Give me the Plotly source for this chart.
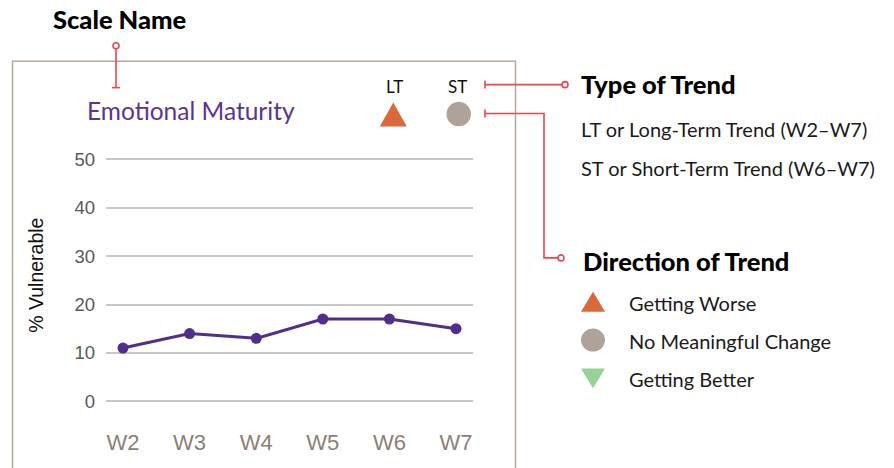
import plotly.graph_objects as go

W, H = 894, 468

# ---- data ----
waves = ["W2", "W3", "W4", "W5", "W6", "W7"]
pct_vulnerable = [11, 14, 13, 17, 17, 15]
y_ticks = [0, 10, 20, 30, 40, 50]
scale_name = "Emotional Maturity"
trend_types = ["LT", "ST"]
trend_type_glyphs = ["up", "circle"]
type_desc = ["LT or Long-Term Trend (W2–W7)", "ST or Short-Term Trend (W6–W7)"]
direction_labels = ["Getting Worse", "No Meaningful Change", "Getting Better"]
direction_glyphs = ["up", "circle", "down"]
glyph_colors = {"up": "#D9693A", "circle": "#AEA399", "down": "#96D196"}

PURPLE = "#512D8C"
RED = "#E84750"
FONT = "Lato"


def px(x):
    return x / W


def py(y):
    return 1 - y / H


fig = go.Figure()

# main line chart
fig.add_trace(go.Scatter(
    x=list(range(len(waves))), y=pct_vulnerable, mode="lines+markers",
    line=dict(color=PURPLE, width=3), marker=dict(size=11, color=PURPLE),
    showlegend=False, hoverinfo="skip"))

y0, y1 = -2, 52
ppu = (402 - 159) / 50
fig.update_layout(
    width=W, height=H, margin=dict(l=0, r=0, t=0, b=0),
    paper_bgcolor="white", plot_bgcolor="rgba(0,0,0,0)",
    xaxis=dict(domain=[px(106), px(473)], range=[-0.255, 5.255],
               tickvals=list(range(len(waves))), ticktext=waves,
               showgrid=False, zeroline=False, showline=False, ticks="",
               tickfont=dict(family="Liberation Sans", size=22, color="#8C7F78"),
               ticklabelstandoff=16, fixedrange=True),
    yaxis=dict(domain=[py(402 + 2 * ppu), py(159 - 2 * ppu)], range=[y0, y1],
               tickvals=y_ticks, showgrid=True, gridcolor="#C8C8C8", gridwidth=1.5,
               zeroline=False, showline=False, ticks="",
               tickfont=dict(family="Liberation Sans", size=18.5, color="#595959"),
               ticklabelstandoff=10, fixedrange=True),
)

shapes = []
# chart box
shapes.append(dict(type="rect", xref="paper", yref="paper",
                   x0=px(12.5), x1=px(515.5), y0=py(480), y1=py(60.5),
                   line=dict(color="#B3A89E", width=1.5), layer="below"))


def glyph(kind, cx, cy, w, h):
    c = glyph_colors[kind]
    if kind == "circle":
        return dict(type="circle", xref="paper", yref="paper",
                    x0=px(cx - w / 2), x1=px(cx + w / 2), y0=py(cy + h / 2), y1=py(cy - h / 2),
                    fillcolor=c, line=dict(width=0))
    if kind == "up":
        pts = [(cx - w / 2, cy + h / 2), (cx + w / 2, cy + h / 2), (cx, cy - h / 2)]
    else:
        pts = [(cx - w / 2, cy - h / 2), (cx + w / 2, cy - h / 2), (cx, cy + h / 2)]
    path = "M " + " L ".join(f"{px(a)} {py(b)}" for a, b in pts) + " Z"
    return dict(type="path", xref="paper", yref="paper", path=path, fillcolor=c, line=dict(width=0))


# key glyphs in the chart box
shapes.append(glyph(trend_type_glyphs[0], 393.3, 114, 27, 24))
shapes.append(glyph(trend_type_glyphs[1], 458.7, 113.5, 24.5, 24.5))
# direction legend glyphs
for i, g in enumerate(direction_glyphs):
    if g == "circle":
        shapes.append(glyph(g, 593, 340.5, 24, 23))
    else:
        shapes.append(glyph(g, 593, 302 + 38.5 * i, 24, 20))

red = dict(color=RED, width=1.6)
# scale name pointer
shapes += [
    dict(type="line", xref="paper", yref="paper", x0=px(116), x1=px(116), y0=py(48), y1=py(87), line=red),
    dict(type="line", xref="paper", yref="paper", x0=px(112), x1=px(120), y0=py(87), y1=py(87), line=red),
    dict(type="circle", xref="paper", yref="paper", x0=px(113), x1=px(119), y0=py(42), y1=py(48),
         line=red, fillcolor="white"),
]
# type of trend pointer
shapes += [
    dict(type="line", xref="paper", yref="paper", x0=px(485), x1=px(562), y0=py(84), y1=py(84), line=red),
    dict(type="line", xref="paper", yref="paper", x0=px(485), x1=px(485), y0=py(80), y1=py(88), line=red),
    dict(type="circle", xref="paper", yref="paper", x0=px(562), x1=px(568), y0=py(81), y1=py(87),
         line=red, fillcolor="white"),
]
# direction of trend pointer
shapes += [
    dict(type="path", xref="paper", yref="paper",
         path=f"M {px(485)} {py(113)} L {px(544)} {py(113)} L {px(544)} {py(258)} L {px(558)} {py(258)}",
         line=red),
    dict(type="line", xref="paper", yref="paper", x0=px(485), x1=px(485), y0=py(109), y1=py(117), line=red),
    dict(type="circle", xref="paper", yref="paper", x0=px(558), x1=px(564), y0=py(255), y1=py(261),
         line=red, fillcolor="white"),
]
fig.update_layout(shapes=shapes)

ann = []


def text(x, y, s, size, color="#1A1A1A", bold=False, xanchor="left", family=FONT, angle=0):
    ann.append(dict(xref="paper", yref="paper", x=px(x), y=py(y), text=s,
                    showarrow=False, xanchor=xanchor, yanchor="middle", textangle=angle,
                    font=dict(family=family, size=size, color=color, weight=900 if bold else 400)))


text(51, 18, "Scale Name", 25.5, "#000000", bold=True)
text(191, 110, scale_name, 24.5, "#5B3393", xanchor="center")
text(394, 86, trend_types[0], 17, "#111111", xanchor="center")
text(458, 86, trend_types[1], 17, "#111111", xanchor="center")
text(36, 276, "% Vulnerable", 19.5, "#111111", xanchor="center", family="Liberation Sans", angle=-90)
text(579, 83, "Type of Trend", 25.5, "#000000", bold=True)
text(579, 129, type_desc[0], 20)
text(579, 168, type_desc[1], 20)
text(581, 261, "Direction of Trend", 25.5, "#000000", bold=True)
for i, lab in enumerate(direction_labels):
    text(627, 303 + 38.5 * i, lab, 20)
fig.update_layout(annotations=ann)

fig.write_html("out.html", config={"displayModeBar": False},
               post_script="document.body.style.margin='0';")
